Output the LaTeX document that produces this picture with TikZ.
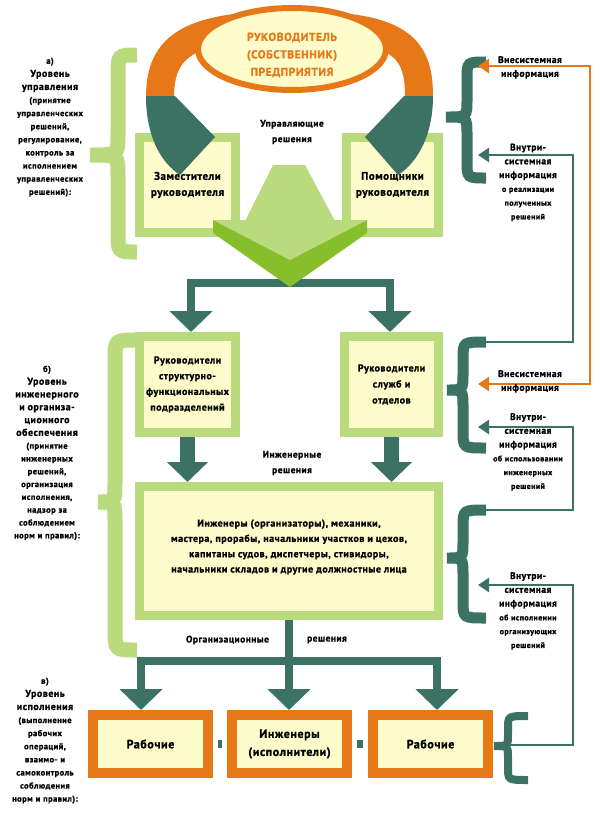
\documentclass[tikz,border=0pt]{standalone}
\usepackage{fontspec}
\setmainfont{PT Sans}[LetterSpace=5,BoldFeatures={FakeBold=1.2}]
\usetikzlibrary{arrows.meta,shapes.geometric}
\definecolor{lgreen}{HTML}{B9DB7E}
\definecolor{yfill}{HTML}{FFFCCB}
\definecolor{tealc}{HTML}{3B7264}
\definecolor{orng}{HTML}{E67817}
\definecolor{dgreen}{HTML}{86BF2B}
% style, xr, xm, xl, yt, ym, yb, r
\newcommand\drawbrace[8]{%
 \draw[#1] (#2,#5) .. controls (#3,#5) .. (#3,#5-#8) -- (#3,#6+#8) .. controls (#3,#6) .. (#4,#6) .. controls (#3,#6) .. (#3,#6-#8) -- (#3,#7+#8) .. controls (#3,#7) .. (#2,#7);}
\newcommand\lvlbig[1]{{\fontsize{10}{13}\selectfont #1}}
\newcommand\rbig[1]{{\fontsize{9.5}{13}\selectfont #1}}
\begin{document}
\begin{tikzpicture}[x=1pt,y=1pt,
  gbox/.style={draw=lgreen,line width=9pt,fill=yfill,inner sep=0pt,align=center,font=\fontsize{10}{15.5}\selectfont\bfseries},
  obox/.style={draw=orng,line width=10pt,fill=yfill,inner sep=0pt,align=center,font=\fontsize{12}{18}\selectfont\bfseries,minimum width=115pt,minimum height=58pt,text width=110pt},
  flow/.style={draw=tealc,line width=8pt},
  flowarr/.style={flow,-{Triangle[width=42pt,length=21pt]}},
  thickarr/.style={draw=tealc,line width=15pt,-{Triangle[width=40pt,length=20pt]}},
  swo/.style={orng,line width=28pt},
  infoT/.style={draw=tealc,line width=2.5pt},
  infoO/.style={draw=orng,line width=2.5pt},
  itip/.style={{Triangle[width=14pt,length=11pt]}-},
  lbl/.style={align=center,text width=110pt,inner sep=0pt,anchor=north,font=\fontsize{8.5}{13.1}\selectfont\bfseries},
  rlbl/.style={align=center,text width=100pt,inner sep=0pt,anchor=north,font=\fontsize{8}{13.8}\selectfont\bfseries},
  mtext/.style={align=center,inner sep=0pt,font=\fontsize{9.5}{15.5}\selectfont\bfseries},
]
\fill[white] (0,0) rectangle (600,-815);
\useasboundingbox (0,0) rectangle (600,-815);

% left braces
\drawbrace{draw=lgreen,line width=15pt}{137}{118}{90}{-55}{-155}{-252}{20}
\drawbrace{draw=lgreen,line width=15pt}{137}{115}{98}{-340}{-502}{-650}{20}
% right braces
\drawbrace{draw=tealc,line width=11pt}{486}{467}{446}{-62}{-117}{-178}{17}
\drawbrace{draw=tealc,line width=11pt}{486}{463}{447}{-342}{-390}{-448}{17}
\drawbrace{draw=tealc,line width=11pt}{486}{463}{447}{-510}{-558}{-618}{17}
\drawbrace{draw=tealc,line width=8pt}{528}{508}{494}{-716}{-746}{-780}{12}

% boxes level a
\node[gbox,minimum width=96pt,minimum height=95pt,text width=90pt,font=\fontsize{11}{16}\selectfont\bfseries] (zam) at (187.5,-185) {Заместители\\руководителя};
\node[gbox,minimum width=92pt,minimum height=95pt,text width=88pt,font=\fontsize{11}{16}\selectfont\bfseries] (pom) at (392.5,-185) {Помощники\\руководителя};

% swooshes
\draw[swo] (235,-28) .. controls (172,-36) and (160,-62) .. (160,-98);
\fill[tealc] (146,-96) -- (175,-96) -- (215,-137) -- (180,-175) .. controls (160,-162) and (146,-135) .. (146,-96) -- cycle;
\draw[swo] (350,-28) .. controls (412,-36) and (419,-62) .. (419,-98);
\fill[tealc] (433,-96) -- (404,-96) -- (365,-137) -- (398,-175) .. controls (418,-162) and (433,-135) .. (433,-96) -- cycle;

\node[ellipse,draw=orng,line width=6pt,fill=yfill,minimum width=188pt,minimum height=82pt,inner sep=0pt] (boss) at (292,-49) {};
\node[align=center,inner sep=0pt,text width=180pt,text=orng,font=\fontsize{11.5}{17.5}\selectfont\bfseries] (bosstxt) at (292,-55) {РУКОВОДИТЕЛЬ\\(СОБСТВЕННИК)\\ПРЕДПРИЯТИЯ};

\node[mtext] (upr) at (292,-132) {Управляющие\\решения};

% level b boxes
\node[gbox,minimum width=96pt,minimum height=96pt,text width=92pt,font=\fontsize{10}{15.7}\selectfont\bfseries] (rsf) at (187.5,-384.5) {Руководители\\структурно-\\функциональных\\подразделений};
\node[gbox,minimum width=94pt,minimum height=96pt,text width=90pt,font=\fontsize{10}{16}\selectfont\bfseries] (rso) at (391.5,-384.5) {Руководители\\служб и\\отделов};

% connector from chevron
\coordinate (cL) at (191,-283);
\coordinate (cR) at (390,-283);
\draw[flow] ([xshift=-4pt]cL) -- ([xshift=4pt]cR);
\draw[flowarr] (cL) -- (cL |- rsf.north);
\draw[flowarr] (cR) -- (cR |- rso.north);

% chevron
\fill[lgreen] (273,-165) -- (305,-165) -- (335,-221) -- (245,-221) -- cycle;
\fill[dgreen] (213,-220) -- (213,-233) -- (290,-287) -- (367,-233) -- (367,-220) -- cycle;
\fill[lgreen] (213,-220) -- (367,-220) -- (290,-260) -- cycle;

% big box
\node[gbox,minimum width=299pt,minimum height=129pt] (big) at (289,-551) {};
\node[mtext,font=\fontsize{10}{15.3}\selectfont\bfseries] (bigtxt) at (289,-547) {Инженеры (организаторы), механики,\\мастера, прорабы, начальники участков и цехов,\\капитаны судов, диспетчеры, стивидоры,\\начальники складов и другие должностные лица};

\draw[thickarr] (rsf.south) -- (rsf.south |- big.north);
\draw[thickarr] (rso.south) -- (rso.south |- big.north);
\node[mtext] (ingr) at (292,-463) {Инженерные\\решения};

% bottom boxes
\node[obox] (rab1) at (150.5,-744) {Рабочие};
\node[obox] (ing) at (289.5,-744) {Инженеры\\(исполнители)};
\node[obox] (rab2) at (430.5,-744) {Рабочие};
\draw[flow,shorten <=5pt,shorten >=5pt] (rab1.east) -- (ing.west);
\draw[flow,shorten <=5pt,shorten >=5pt] (ing.east) -- (rab2.west);

\coordinate (bm) at (289,-661);
\coordinate (b1) at (141,-661);
\coordinate (b3) at (437,-661);
\draw[flow] (big.south) -- (bm);
\draw[flow] ([xshift=-4pt]b1) -- ([xshift=4pt]b3);
\draw[flowarr] (b1) -- (b1 |- rab1.north);
\draw[flowarr] (bm) -- (bm |- ing.north);
\draw[flowarr] (b3) -- (b3 |- rab2.north);
\node[mtext] (org1) at (227.5,-640) {Организационные};
\node[mtext] (org2) at (327,-640) {решения};

% information lines
\coordinate (oi1) at (478,-66);
\coordinate (oi2) at (478,-384);
\coordinate (ti1) at (478,-155);
\coordinate (ti2) at (478,-427);
\coordinate (ti3) at (478,-585);
\coordinate (br2) at (486,-342);
\coordinate (br3) at (486,-510);
\coordinate (br4) at (510,-745);
\draw[infoO,{Triangle[width=14pt,length=11pt]}-{Triangle[width=14pt,length=11pt]}] (oi1) -- (590,-66) -- (590,-384) -- (oi2);
\draw[infoT,itip] (ti1) -- (573,-155) -- (573,-342) -- (br2);
\draw[infoT,itip] (ti2) -- (573,-427) -- (573,-510) -- (br3);
\draw[infoT,itip] (ti3) -- (573,-585) -- (573,-745) -- (br4);

% right labels
\node[rlbl] (r1) at (530,-56) {\rbig{Внесистемная}\\\rbig{информация}};
\node[rlbl] (r2) at (528,-143.5) {\rbig{Внутри-}\\\rbig{системная}\\\rbig{информация}\\о реализации\\полученных\\решений};
\node[rlbl] (r3) at (530,-370) {\rbig{Внесистемная}\\\rbig{информация}};
\node[rlbl] (r4) at (528,-413) {\rbig{Внутри-}\\\rbig{системная}\\\rbig{информация}\\об использовании\\инженерных\\решений};
\node[rlbl] (r5) at (528,-572) {\rbig{Внутри-}\\\rbig{системная}\\\rbig{информация}\\об исполнении\\организующих\\решений};

% left labels
\node[lbl] (la) at (50,-57.5) {а)\\\lvlbig{Уровень}\\\lvlbig{управления}\\(принятие\\управленческих\\решений,\\регулирование,\\контроль за\\исполнением\\управленческих\\решений):};
\node[lbl,font=\fontsize{8.5}{12.8}\selectfont\bfseries] (lb) at (47,-365.5) {б)\\\lvlbig{Уровень}\\\lvlbig{инженерного}\\\lvlbig{и организа-}\\\lvlbig{ционного}\\\lvlbig{обеспечения}\\(принятие\\инженерных\\решений,\\организация\\исполнения,\\надзор за\\соблюдением\\норм и правил):};
\node[lbl] (lc) at (45,-677.5) {в)\\\lvlbig{Уровень}\\\lvlbig{исполнения}\\(выполнение\\рабочих\\операций,\\взаимо- и\\самоконтроль\\соблюдения\\норм и правил):};
\end{tikzpicture}
\end{document}
